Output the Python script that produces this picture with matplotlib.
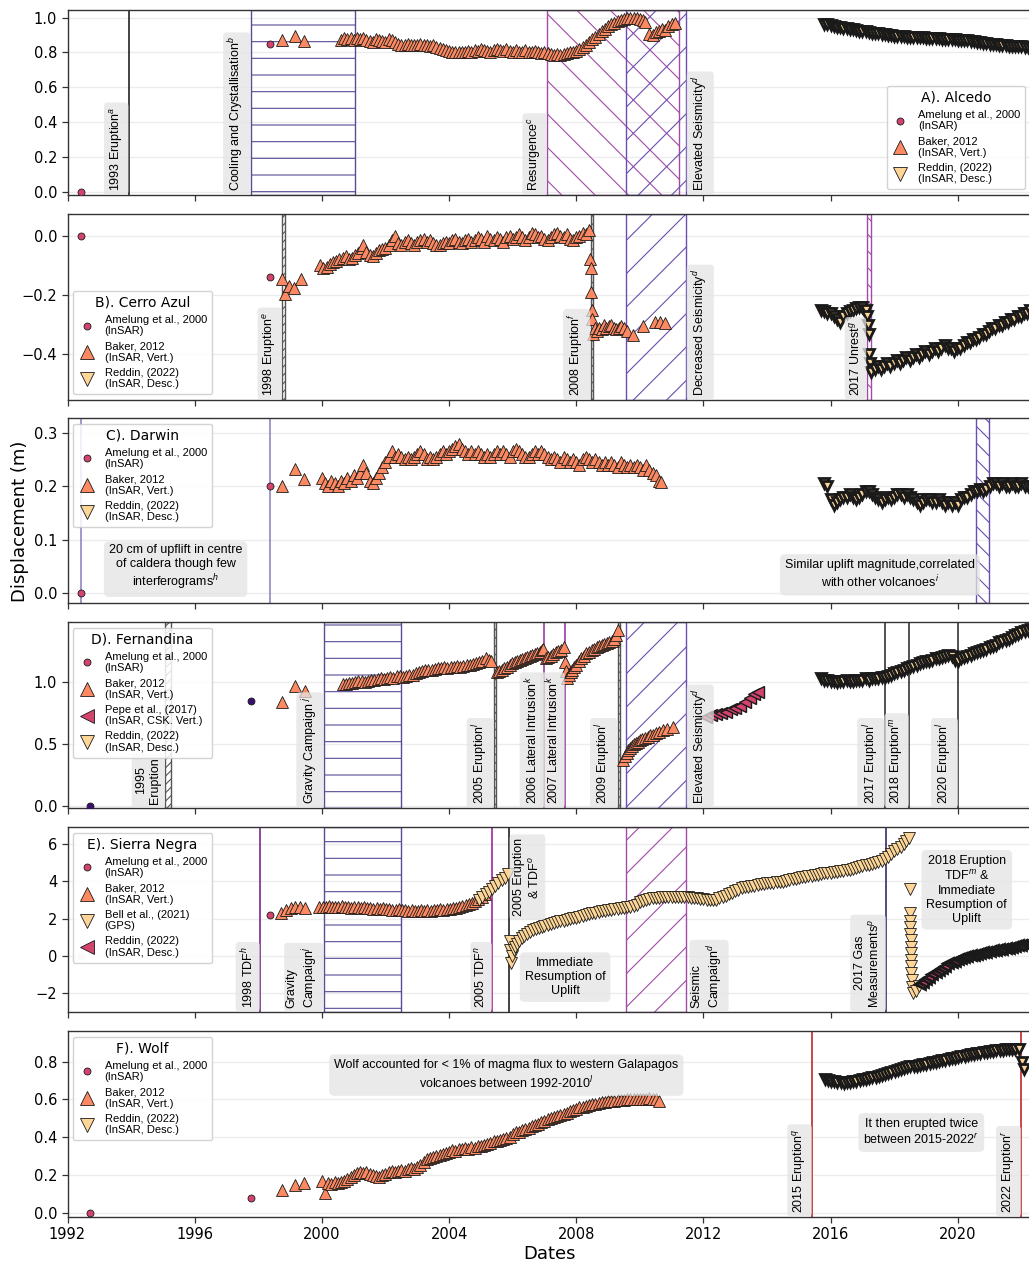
import matplotlib
matplotlib.use('Agg')
import matplotlib.pyplot as plt
from matplotlib.lines import Line2D

plt.rcParams['font.family'] = ['DejaVu Sans']
plt.rcParams['mathtext.fontset'] = 'custom'
plt.rcParams['mathtext.rm'] = 'Liberation Sans'
plt.rcParams['mathtext.it'] = 'Liberation Sans:italic'
plt.rcParams['hatch.linewidth'] = 0.8

# ---------------- data (decimal years, displacement m) ----------------
amel_A = [(1992.44, 0.0), (1998.38, 0.85)]
baker_A = [(1998.74, 0.87), (1999.14, 0.895), (1999.43, 0.865),
           (2000.6, .870), (2000.7, .880), (2000.8, .875), (2000.9, .885), (2001.0, .870), (2001.1, .880),
           (2001.2, .875), (2001.3, .885), (2001.4, .870), (2001.5, .865), (2001.6, .860), (2001.7, .875),
           (2001.8, .870), (2001.9, .865), (2002.0, .860), (2002.1, .875), (2002.2, .870), (2002.3, .860),
           (2002.4, .850), (2002.5, .845), (2002.6, .840), (2002.7, .850), (2002.8, .845), (2002.9, .840),
           (2003.0, .845), (2003.1, .850), (2003.2, .845), (2003.3, .840), (2003.4, .835), (2003.5, .840),
           (2003.6, .830), (2003.7, .825), (2003.8, .820), (2003.9, .815), (2004.0, .810), (2004.1, .805),
           (2004.2, .800), (2004.3, .800), (2004.4, .805), (2004.5, .800), (2004.6, .810), (2004.7, .805),
           (2004.8, .815), (2004.9, .810), (2005.0, .820), (2005.1, .815), (2005.2, .810), (2005.3, .805),
           (2005.4, .815), (2005.5, .820), (2005.6, .815), (2005.7, .810), (2005.8, .820), (2005.9, .810),
           (2006.0, .805), (2006.1, .815), (2006.2, .800), (2006.3, .805), (2006.4, .815), (2006.5, .805),
           (2006.6, .800), (2006.7, .810), (2006.8, .800), (2006.9, .795), (2007.0, .805), (2007.1, .795),
           (2007.2, .790), (2007.3, .785), (2007.4, .790), (2007.5, .785), (2007.6, .790), (2007.7, .795),
           (2007.8, .800), (2007.9, .805), (2008.0, .810), (2008.1, .820), (2008.2, .830), (2008.3, .845),
           (2008.4, .860), (2008.5, .875), (2008.6, .890), (2008.7, .905), (2008.8, .920), (2008.9, .935),
           (2009.0, .950), (2009.1, .960), (2009.2, .970), (2009.3, .980), (2009.4, .985), (2009.5, .990),
           (2009.6, .995), (2009.7, 1.0), (2009.8, .995), (2009.9, 1.0), (2010.0, .990), (2010.1, .985),
           (2010.15, .975), (2010.3, .905), (2010.4, .900), (2010.5, .915), (2010.6, .925), (2010.7, .935),
           (2010.8, .930), (2010.9, .950), (2011.0, .960), (2011.1, .970)]
reddin_A = [(2015.8, .963), (2015.9, .96), (2016.0, .955), (2016.1, .952), (2016.2, .948), (2016.3, .945),
            (2016.4, .942), (2016.5, .938), (2016.6, .935), (2016.7, .932), (2016.8, .928), (2016.9, .925),
            (2017.0, .922), (2017.1, .92), (2017.2, .917), (2017.3, .914), (2017.4, .912), (2017.5, .909),
            (2017.6, .906), (2017.7, .903), (2017.8, .901), (2017.9, .898), (2018.0, .896), (2018.1, .895),
            (2018.2, .894), (2018.3, .892), (2018.4, .891), (2018.5, .89), (2018.6, .889), (2018.7, .888),
            (2018.8, .887), (2018.9, .886), (2019.0, .885), (2019.1, .884), (2019.2, .882), (2019.3, .881),
            (2019.4, .88), (2019.5, .879), (2019.6, .878), (2019.7, .877), (2019.8, .876), (2019.9, .875),
            (2020.0, .873), (2020.1, .872), (2020.2, .871), (2020.3, .869), (2020.4, .866), (2020.5, .864),
            (2020.6, .861), (2020.7, .858), (2020.8, .856), (2020.9, .853), (2021.0, .851), (2021.1, .849),
            (2021.2, .847), (2021.3, .845), (2021.4, .843), (2021.5, .841), (2021.6, .839), (2021.7, .837),
            (2021.8, .836), (2021.9, .835), (2022.0, .834), (2022.1, .833), (2022.2, .832), (2022.3, .831)]

amel_B = [(1992.44, 0.0), (1998.38, -0.14)]
baker_B = [(1998.75, -0.146), (1998.85, -0.198), (1998.98, -0.17), (1999.13, -0.175), (1999.34, -0.145),
           (1999.95, -.100), (2000.05, -.110), (2000.15, -.105), (2000.25, -.095), (2000.35, -.090),
           (2000.45, -.085), (2000.55, -.080), (2000.65, -.075), (2000.75, -.070), (2000.85, -.080),
           (2000.95, -.075), (2001.05, -.065), (2001.15, -.060), (2001.25, -.040), (2001.3, -.030),
           (2001.4, -.055), (2001.5, -.065), (2001.6, -.070), (2001.7, -.060), (2001.8, -.050),
           (2001.9, -.045), (2002.0, -.040), (2002.1, -.030), (2002.2, -.015), (2002.3, .000),
           (2002.4, -.025), (2002.5, -.030), (2002.6, -.020), (2002.7, -.015), (2002.8, -.025),
           (2002.9, -.030), (2003.0, -.020), (2003.1, -.015), (2003.2, -.010), (2003.3, -.020),
           (2003.4, -.015), (2003.5, -.025), (2003.6, -.030), (2003.7, -.030), (2003.8, -.025),
           (2003.9, -.020), (2004.0, -.025), (2004.1, -.015), (2004.2, -.010), (2004.3, -.020),
           (2004.4, -.025), (2004.5, -.015), (2004.6, -.010), (2004.7, -.020), (2004.8, -.015),
           (2004.9, -.005), (2005.0, -.010), (2005.1, -.020), (2005.2, .000), (2005.3, -.010),
           (2005.4, -.015), (2005.5, -.005), (2005.6, -.010), (2005.7, -.020), (2005.8, -.005),
           (2005.9, .000), (2006.0, -.010), (2006.1, -.005), (2006.2, .005), (2006.3, -.005),
           (2006.4, -.015), (2006.5, -.005), (2006.6, .010), (2006.7, .005), (2006.8, -.005),
           (2006.9, .000), (2007.0, -.010), (2007.1, -.015), (2007.2, -.005), (2007.3, .005),
           (2007.4, .010), (2007.5, .000), (2007.6, -.005), (2007.7, .005), (2007.8, -.010),
           (2007.9, -.015), (2008.0, -.005), (2008.1, .000), (2008.2, .010), (2008.3, .005),
           (2008.4, .020),
           (2008.43, -.08), (2008.45, -.11), (2008.47, -.19), (2008.49, -.25), (2008.51, -.28),
           (2008.53, -.33), (2008.58, -.31), (2008.65, -.32), (2008.72, -.31), (2008.8, -.315),
           (2008.88, -.30), (2008.95, -.31), (2009.03, -.305), (2009.1, -.30), (2009.18, -.31),
           (2009.25, -.315), (2009.33, -.31), (2009.4, -.305), (2009.5, -.31), (2009.6, -.32),
           (2009.78, -.335), (2010.1, -.305), (2010.47, -.29), (2010.63, -.29), (2010.79, -.295)]
reddin_B = [(2015.7, -0.25), (2015.8, -0.255), (2015.9, -0.26), (2016.0, -0.26), (2016.1, -0.27),
            (2016.2, -0.28), (2016.3, -0.29), (2016.4, -0.27), (2016.5, -0.26), (2016.6, -0.255),
            (2016.7, -0.25), (2016.8, -0.245), (2016.9, -0.24), (2017.0, -0.24), (2017.1, -0.25),
            (2017.15, -0.27), (2017.17, -0.30), (2017.19, -0.33), (2017.21, -0.40), (2017.23, -0.43),
            (2017.28, -0.46), (2017.38, -0.45), (2017.48, -0.44), (2017.58, -0.45), (2017.68, -0.44),
            (2017.78, -0.43), (2017.88, -0.44), (2017.98, -0.43), (2018.08, -0.42), (2018.18, -0.43),
            (2018.28, -0.42), (2018.38, -0.41), (2018.48, -0.42), (2018.58, -0.41), (2018.68, -0.40),
            (2018.78, -0.41), (2018.88, -0.40), (2018.98, -0.39), (2019.08, -0.40), (2019.18, -0.39),
            (2019.28, -0.38), (2019.38, -0.39), (2019.48, -0.38), (2019.58, -0.37), (2019.68, -0.38),
            (2019.78, -0.38), (2019.88, -0.39), (2019.98, -0.38), (2020.08, -0.38), (2020.18, -0.37),
            (2020.28, -0.36), (2020.38, -0.36), (2020.48, -0.35), (2020.58, -0.35), (2020.68, -0.34),
            (2020.78, -0.33), (2020.88, -0.33), (2020.98, -0.32), (2021.08, -0.31), (2021.18, -0.31),
            (2021.28, -0.30), (2021.38, -0.30), (2021.48, -0.29), (2021.58, -0.29), (2021.68, -0.28),
            (2021.78, -0.28), (2021.88, -0.27), (2021.98, -0.27), (2022.08, -0.26), (2022.18, -0.26),
            (2022.28, -0.25)]

amel_C = [(1992.44, 0.0), (1998.38, 0.20)]
baker_C = [(1998.74, 0.20), (1999.17, 0.232), (1999.43, 0.213),
           (2000.0, .215), (2000.1, .205), (2000.2, .200), (2000.3, .210), (2000.4, .205), (2000.5, .200),
           (2000.6, .210), (2000.7, .205), (2000.8, .215), (2000.9, .210), (2001.0, .220), (2001.1, .215),
           (2001.2, .225), (2001.3, .240), (2001.4, .225), (2001.5, .210), (2001.6, .205), (2001.7, .215),
           (2001.8, .225), (2001.9, .235), (2002.0, .245), (2002.1, .255), (2002.2, .265), (2002.3, .255),
           (2002.4, .260), (2002.5, .255), (2002.6, .250), (2002.7, .255), (2002.8, .250), (2002.9, .255),
           (2003.0, .260), (2003.1, .265), (2003.2, .260), (2003.3, .250), (2003.4, .255), (2003.5, .250),
           (2003.6, .255), (2003.7, .260), (2003.8, .265), (2003.9, .260), (2004.0, .265), (2004.1, .270),
           (2004.2, .275), (2004.3, .278), (2004.4, .270), (2004.5, .265), (2004.6, .260), (2004.7, .265),
           (2004.8, .260), (2004.9, .265), (2005.0, .260), (2005.1, .255), (2005.2, .260), (2005.3, .255),
           (2005.4, .260), (2005.5, .265), (2005.6, .260), (2005.7, .265), (2005.8, .260), (2005.9, .255),
           (2006.0, .265), (2006.1, .270), (2006.2, .265), (2006.3, .260), (2006.4, .255), (2006.5, .255),
           (2006.6, .260), (2006.7, .265), (2006.8, .260), (2006.9, .265), (2007.0, .260), (2007.1, .255),
           (2007.2, .250), (2007.3, .255), (2007.4, .250), (2007.5, .245), (2007.6, .255), (2007.7, .250),
           (2007.8, .245), (2007.9, .250), (2008.0, .245), (2008.1, .240), (2008.2, .250), (2008.3, .255),
           (2008.4, .250), (2008.5, .245), (2008.6, .250), (2008.7, .245), (2008.8, .240), (2008.9, .245),
           (2009.0, .240), (2009.1, .245), (2009.2, .240), (2009.3, .235), (2009.4, .245), (2009.5, .240),
           (2009.6, .235), (2009.7, .240), (2009.8, .235), (2009.9, .240), (2010.0, .235), (2010.1, .230),
           (2010.2, .240), (2010.3, .230), (2010.4, .225), (2010.5, .220), (2010.6, .210), (2010.65, .208)]
reddin_C = [(2015.8, 0.205), (2015.9, 0.20), (2016.0, 0.175), (2016.1, 0.165), (2016.2, 0.17),
            (2016.3, 0.175), (2016.4, 0.18), (2016.5, 0.18), (2016.6, 0.185), (2016.7, 0.18),
            (2016.8, 0.175), (2016.9, 0.18), (2017.0, 0.185), (2017.1, 0.19), (2017.2, 0.19),
            (2017.3, 0.185), (2017.4, 0.18), (2017.5, 0.175), (2017.6, 0.17), (2017.7, 0.175),
            (2017.8, 0.18), (2017.9, 0.175), (2018.0, 0.18), (2018.1, 0.185), (2018.2, 0.185),
            (2018.3, 0.18), (2018.4, 0.185), (2018.5, 0.18), (2018.6, 0.175), (2018.7, 0.17),
            (2018.8, 0.165), (2018.9, 0.17), (2019.0, 0.175), (2019.1, 0.175), (2019.2, 0.17),
            (2019.3, 0.17), (2019.4, 0.175), (2019.5, 0.17), (2019.6, 0.165), (2019.7, 0.17),
            (2019.8, 0.165), (2019.9, 0.17), (2020.0, 0.165), (2020.1, 0.175), (2020.2, 0.18),
            (2020.3, 0.18), (2020.4, 0.185), (2020.5, 0.19), (2020.6, 0.19), (2020.7, 0.195),
            (2020.8, 0.19), (2020.9, 0.195), (2021.0, 0.20), (2021.1, 0.205), (2021.2, 0.205),
            (2021.3, 0.20), (2021.4, 0.205), (2021.5, 0.20), (2021.6, 0.20), (2021.7, 0.205),
            (2021.8, 0.20), (2021.9, 0.20), (2022.0, 0.205), (2022.1, 0.20), (2022.2, 0.20),
            (2022.3, 0.20)]

amel_D = [(1992.7, 0.0), (1997.78, 0.85)]
baker_D = [(1998.75, 0.84), (1999.17, 0.97), (1999.46, 0.93),
           (2000.65, .98), (2000.75, .985), (2000.85, .99), (2000.95, .995), (2001.05, 1.0), (2001.15, 1.005),
           (2001.25, 1.01), (2001.35, 1.0), (2001.45, 1.01), (2001.55, 1.02), (2001.65, 1.015),
           (2001.75, 1.025), (2001.85, 1.03), (2001.95, 1.025), (2002.05, 1.03), (2002.15, 1.04),
           (2002.25, 1.035), (2002.35, 1.045), (2002.45, 1.05), (2002.55, 1.04), (2002.65, 1.045),
           (2002.75, 1.055), (2002.85, 1.06), (2002.95, 1.07), (2003.05, 1.08), (2003.15, 1.09),
           (2003.25, 1.10), (2003.35, 1.095), (2003.45, 1.10), (2003.55, 1.105), (2003.65, 1.11),
           (2003.75, 1.115), (2003.85, 1.12), (2003.95, 1.115), (2004.05, 1.12), (2004.15, 1.125),
           (2004.25, 1.13), (2004.35, 1.125), (2004.45, 1.13), (2004.55, 1.135), (2004.65, 1.14),
           (2004.75, 1.145), (2004.85, 1.15), (2004.95, 1.16), (2005.05, 1.17), (2005.15, 1.19),
           (2005.25, 1.18), (2005.32, 1.17),
           (2005.5, 1.08), (2005.58, 1.09), (2005.66, 1.10), (2005.74, 1.11), (2005.82, 1.125),
           (2005.9, 1.135), (2005.98, 1.15), (2006.06, 1.16), (2006.14, 1.17), (2006.22, 1.175),
           (2006.3, 1.185), (2006.38, 1.19), (2006.46, 1.20), (2006.54, 1.21), (2006.62, 1.215),
           (2006.7, 1.225), (2006.78, 1.23), (2006.86, 1.24), (2006.92, 1.26), (2006.96, 1.27),
           (2007.04, 1.19), (2007.12, 1.20), (2007.2, 1.21), (2007.28, 1.225), (2007.36, 1.24),
           (2007.44, 1.25), (2007.52, 1.26), (2007.6, 1.28),
           (2007.66, 1.16), (2007.68, 1.09), (2007.7, 1.03), (2007.76, 1.06), (2007.82, 1.08),
           (2007.88, 1.10), (2007.94, 1.12), (2008.0, 1.14), (2008.08, 1.17), (2008.16, 1.19),
           (2008.24, 1.21), (2008.32, 1.23), (2008.4, 1.24), (2008.48, 1.26), (2008.56, 1.27),
           (2008.64, 1.28), (2008.72, 1.29), (2008.8, 1.30), (2008.88, 1.31), (2008.96, 1.315),
           (2009.04, 1.32), (2009.12, 1.33), (2009.2, 1.35), (2009.26, 1.38), (2009.3, 1.42),
           (2009.46, .37), (2009.52, .40), (2009.58, .43), (2009.64, .45), (2009.7, .47), (2009.76, .48),
           (2009.82, .50), (2009.88, .51), (2009.94, .52), (2010.0, .53), (2010.08, .54), (2010.16, .55),
           (2010.24, .56), (2010.32, .57), (2010.4, .575), (2010.5, .585), (2010.6, .60), (2010.72, .61),
           (2010.85, .625), (2011.03, .64)]
pepe_D = [(2012.09, 0.72), (2012.25, 0.73), (2012.4, 0.74), (2012.55, 0.75), (2012.7, 0.76),
          (2012.85, 0.78), (2013.0, 0.79), (2013.15, 0.81), (2013.3, 0.84), (2013.45, 0.87),
          (2013.6, 0.90), (2013.72, 0.92)]
reddin_D = [(2015.7, 1.03), (2015.8, 1.02), (2015.9, 1.02), (2016.0, 1.01), (2016.1, 1.01),
            (2016.2, 1.00), (2016.3, 1.01), (2016.4, 1.01), (2016.5, 1.02), (2016.6, 1.01),
            (2016.7, 1.01), (2016.8, 1.02), (2016.9, 1.02), (2017.0, 1.02), (2017.1, 1.03),
            (2017.2, 1.02), (2017.3, 1.03), (2017.4, 1.03), (2017.5, 1.03), (2017.6, 1.04),
            (2017.7, 1.04), (2017.8, 1.05), (2017.9, 1.06), (2018.0, 1.07), (2018.1, 1.08),
            (2018.2, 1.09), (2018.3, 1.10), (2018.4, 1.11), (2018.5, 1.12), (2018.6, 1.13),
            (2018.7, 1.14), (2018.8, 1.15), (2018.9, 1.16), (2019.0, 1.17), (2019.1, 1.17),
            (2019.2, 1.18), (2019.3, 1.19), (2019.4, 1.19), (2019.5, 1.20), (2019.6, 1.21),
            (2019.7, 1.22), (2019.8, 1.21), (2019.9, 1.18), (2020.0, 1.17), (2020.1, 1.19),
            (2020.2, 1.20), (2020.3, 1.21), (2020.4, 1.22), (2020.5, 1.23), (2020.6, 1.24),
            (2020.7, 1.25), (2020.8, 1.26), (2020.9, 1.27), (2021.0, 1.28), (2021.1, 1.29),
            (2021.2, 1.30), (2021.3, 1.32), (2021.4, 1.33), (2021.5, 1.34), (2021.6, 1.35),
            (2021.7, 1.36), (2021.8, 1.38), (2021.9, 1.39), (2022.0, 1.40), (2022.1, 1.41),
            (2022.2, 1.42), (2022.3, 1.43)]

amel_E = [(1998.38, 2.2)]
amel_E_faded = [(1992.44, 0.0)]
baker_E = [(1998.72, 2.3), (1998.87, 2.45), (1999.02, 2.55), (1999.17, 2.6), (1999.32, 2.6),
           (1999.47, 2.55),
           (1999.92, 2.60), (2000.02, 2.65), (2000.12, 2.62), (2000.22, 2.68), (2000.32, 2.60),
           (2000.42, 2.65), (2000.52, 2.62), (2000.62, 2.66), (2000.72, 2.60), (2000.82, 2.64),
           (2000.92, 2.58), (2001.02, 2.62), (2001.12, 2.60), (2001.22, 2.56), (2001.32, 2.60),
           (2001.42, 2.55), (2001.52, 2.58), (2001.62, 2.54), (2001.72, 2.56), (2001.82, 2.52),
           (2001.92, 2.55), (2002.02, 2.50), (2002.12, 2.52), (2002.22, 2.46), (2002.32, 2.44),
           (2002.42, 2.50), (2002.52, 2.46), (2002.62, 2.44), (2002.72, 2.42), (2002.82, 2.46),
           (2002.92, 2.42), (2003.02, 2.40), (2003.12, 2.44), (2003.22, 2.42), (2003.32, 2.45),
           (2003.42, 2.43), (2003.52, 2.47), (2003.62, 2.45), (2003.72, 2.50), (2003.82, 2.48),
           (2003.92, 2.52), (2004.02, 2.53), (2004.12, 2.56), (2004.22, 2.58), (2004.32, 2.62),
           (2004.42, 2.66), (2004.52, 2.72), (2004.62, 2.78), (2004.72, 2.86), (2004.82, 2.95),
           (2004.92, 3.05), (2005.02, 3.15), (2005.12, 3.3)]
bell_E = [(2004.95, 3.0), (2005.05, 3.15), (2005.15, 3.3), (2005.25, 3.45), (2005.35, 3.6),
          (2005.45, 3.75), (2005.55, 3.9), (2005.65, 4.05), (2005.75, 4.2), (2005.85, 4.4),
          (2005.9, 0.8), (2005.92, 0.3), (2005.94, -0.4), (2005.98, 0.0), (2006.03, 0.3),
          (2006.08, 0.5), (2006.13, 0.65), (2006.2, 0.8), (2006.28, 0.95), (2006.36, 1.07),
          (2006.45, 1.17), (2006.55, 1.3), (2006.64, 1.39), (2006.73, 1.45), (2006.82, 1.5),
          (2006.91, 1.55), (2007.0, 1.6), (2007.1, 1.65), (2007.2, 1.7), (2007.3, 1.75),
          (2007.4, 1.8), (2007.5, 1.85), (2007.6, 1.9), (2007.7, 1.93), (2007.8, 1.97),
          (2007.9, 2.02), (2008.0, 2.06), (2008.1, 2.1), (2008.2, 2.14), (2008.3, 2.18),
          (2008.4, 2.23), (2008.5, 2.28), (2008.6, 2.32), (2008.7, 2.36), (2008.8, 2.39),
          (2008.9, 2.42), (2009.0, 2.45), (2009.1, 2.48), (2009.2, 2.5), (2009.3, 2.53),
          (2009.4, 2.56), (2009.5, 2.58), (2009.6, 2.61), (2009.7, 2.63), (2009.8, 2.66),
          (2009.9, 2.75), (2010.0, 2.87), (2010.1, 2.95), (2010.2, 3.0), (2010.3, 3.05),
          (2010.4, 3.08), (2010.5, 3.1), (2010.6, 3.12), (2010.7, 3.14), (2010.8, 3.15),
          (2010.9, 3.16), (2011.0, 3.17), (2011.1, 3.18), (2011.2, 3.18), (2011.3, 3.18),
          (2011.4, 3.16), (2011.5, 3.14), (2011.6, 3.12), (2011.7, 3.1), (2011.8, 3.08),
          (2011.9, 3.06), (2012.0, 3.04), (2012.1, 3.02), (2012.2, 3.0), (2012.3, 3.0),
          (2012.4, 3.01), (2012.5, 3.08), (2012.6, 3.15), (2012.7, 3.23), (2012.8, 3.32),
          (2012.9, 3.4), (2013.0, 3.48), (2013.1, 3.55), (2013.2, 3.62), (2013.3, 3.67),
          (2013.4, 3.71), (2013.5, 3.74), (2013.6, 3.77), (2013.7, 3.8), (2013.8, 3.83),
          (2013.9, 3.86), (2014.0, 3.89), (2014.1, 3.91), (2014.2, 3.93), (2014.3, 3.95),
          (2014.4, 3.97), (2014.5, 3.99), (2014.6, 4.03), (2014.7, 4.07), (2014.8, 4.1),
          (2014.9, 4.13), (2015.0, 4.17), (2015.1, 4.21), (2015.2, 4.25), (2015.3, 4.28),
          (2015.4, 4.31), (2015.5, 4.34), (2015.6, 4.36), (2015.7, 4.39), (2015.8, 4.42),
          (2015.9, 4.45), (2016.0, 4.47), (2016.1, 4.5), (2016.2, 4.52), (2016.3, 4.54),
          (2016.4, 4.56), (2016.5, 4.6), (2016.6, 4.63), (2016.7, 4.67), (2016.8, 4.7),
          (2016.9, 4.75), (2017.0, 4.8), (2017.1, 4.85), (2017.2, 4.9), (2017.3, 4.94),
          (2017.4, 4.98), (2017.5, 5.04), (2017.6, 5.1), (2017.7, 5.2), (2017.8, 5.3),
          (2017.9, 5.45), (2018.0, 5.6), (2018.1, 5.72), (2018.2, 5.85), (2018.3, 6.0),
          (2018.38, 6.15), (2018.45, 6.3),
          (2018.49, 3.6), (2018.5, 2.3), (2018.5, 1.9), (2018.51, 1.55), (2018.51, 1.2),
          (2018.52, 0.85), (2018.52, 0.5), (2018.53, 0.15), (2018.53, -0.2), (2018.54, -0.55),
          (2018.54, -0.9), (2018.55, -1.3), (2018.56, -1.65), (2018.58, -2.0), (2018.68, -1.9),
          (2018.78, -1.6)]
reddin_E = [(2018.8, -1.5), (2018.9, -1.38), (2019.0, -1.25), (2019.1, -1.1), (2019.2, -0.98),
            (2019.3, -0.87), (2019.4, -0.75), (2019.5, -0.63), (2019.6, -0.52), (2019.7, -0.4),
            (2019.8, -0.33), (2019.9, -0.25), (2020.0, -0.17), (2020.1, -0.1), (2020.2, -0.06),
            (2020.3, -0.02), (2020.4, 0.03), (2020.5, 0.07), (2020.6, 0.11), (2020.7, 0.15),
            (2020.8, 0.19), (2020.9, 0.22), (2021.0, 0.26), (2021.1, 0.3), (2021.2, 0.33),
            (2021.3, 0.36), (2021.4, 0.39), (2021.5, 0.42), (2021.6, 0.45), (2021.7, 0.49),
            (2021.8, 0.53), (2021.9, 0.57), (2022.0, 0.6), (2022.1, 0.62), (2022.2, 0.64),
            (2022.3, 0.66)]

amel_F = [(1992.7, 0.0), (1997.78, 0.08)]
baker_F = [(1998.74, 0.12), (1999.15, 0.145), (1999.45, 0.155),
           (2000.0, .17), (2000.1, .105), (2000.2, .155), (2000.3, .15), (2000.4, .16), (2000.5, .155),
           (2000.6, .165), (2000.7, .17), (2000.8, .18), (2000.9, .19), (2001.0, .20), (2001.1, .21),
           (2001.2, .215), (2001.3, .21), (2001.4, .215), (2001.5, .205), (2001.6, .20), (2001.7, .195),
           (2001.8, .19), (2001.9, .20), (2002.0, .205), (2002.1, .215), (2002.2, .22), (2002.3, .215),
           (2002.4, .22), (2002.5, .225), (2002.6, .22), (2002.7, .23), (2002.8, .235), (2002.9, .23),
           (2003.0, .24), (2003.1, .255), (2003.2, .27), (2003.3, .285), (2003.4, .29), (2003.5, .295),
           (2003.6, .30), (2003.7, .305), (2003.8, .31), (2003.9, .315), (2004.0, .32), (2004.1, .33),
           (2004.2, .325), (2004.3, .335), (2004.4, .34), (2004.5, .345), (2004.6, .34), (2004.7, .35),
           (2004.8, .345), (2004.9, .355), (2005.0, .355), (2005.1, .36), (2005.2, .365), (2005.3, .37),
           (2005.4, .38), (2005.5, .38), (2005.6, .385), (2005.7, .39), (2005.8, .395), (2005.9, .40),
           (2006.0, .415), (2006.1, .425), (2006.2, .43), (2006.3, .44), (2006.4, .445), (2006.5, .45),
           (2006.6, .46), (2006.7, .465), (2006.8, .47), (2006.9, .48), (2007.0, .485), (2007.1, .495),
           (2007.2, .50), (2007.3, .505), (2007.4, .51), (2007.5, .52), (2007.6, .525), (2007.7, .53),
           (2007.8, .54), (2007.9, .545), (2008.0, .55), (2008.1, .56), (2008.2, .56), (2008.3, .565),
           (2008.4, .57), (2008.5, .575), (2008.6, .575), (2008.7, .58), (2008.8, .585), (2008.9, .585),
           (2009.0, .59), (2009.1, .59), (2009.2, .59), (2009.3, .595), (2009.4, .595), (2009.5, .595),
           (2009.6, .60), (2009.7, .60), (2009.8, .60), (2009.9, .60), (2010.0, .60), (2010.1, .605),
           (2010.2, .605), (2010.3, .61), (2010.4, .605), (2010.5, .60), (2010.6, .59)]
reddin_F = [(2015.81, 0.71), (2015.91, 0.705), (2016.01, 0.70), (2016.11, 0.70), (2016.21, 0.695),
            (2016.31, 0.69), (2016.41, 0.685), (2016.51, 0.69), (2016.61, 0.695), (2016.71, 0.70),
            (2016.81, 0.70), (2016.91, 0.705), (2017.01, 0.71), (2017.11, 0.71), (2017.21, 0.715),
            (2017.31, 0.72), (2017.41, 0.72), (2017.51, 0.725), (2017.61, 0.73), (2017.71, 0.735),
            (2017.81, 0.74), (2017.91, 0.745), (2018.01, 0.75), (2018.11, 0.755), (2018.21, 0.76),
            (2018.31, 0.765), (2018.41, 0.77), (2018.51, 0.775), (2018.61, 0.78), (2018.71, 0.78),
            (2018.81, 0.785), (2018.91, 0.79), (2019.01, 0.79), (2019.11, 0.795), (2019.21, 0.80),
            (2019.31, 0.80), (2019.41, 0.805), (2019.51, 0.81), (2019.61, 0.81), (2019.71, 0.815),
            (2019.81, 0.82), (2019.91, 0.82), (2020.01, 0.825), (2020.11, 0.83), (2020.21, 0.83),
            (2020.31, 0.835), (2020.41, 0.84), (2020.51, 0.84), (2020.61, 0.845), (2020.71, 0.845),
            (2020.81, 0.85), (2020.91, 0.85), (2021.01, 0.855), (2021.11, 0.855), (2021.21, 0.86),
            (2021.31, 0.86), (2021.41, 0.86), (2021.51, 0.865), (2021.61, 0.865), (2021.71, 0.87),
            (2021.81, 0.87), (2021.91, 0.87), (2022.02, 0.80), (2022.08, 0.76)]

year_ticks = [1992, 1996, 2000, 2004, 2008, 2012, 2016, 2020]

# ---------------- styles ----------------
C_AMEL = '#d3436e'
C_AMEL_D = '#3b0f70'
C_BAKER = '#fc8961'
C_REDDIN = '#fdd697'
C_PEPE = '#d3436e'
EDGE = '#1a1a1a'
P_DARK = '#5b4a96'
P_MAG = '#a24aa8'
P_BLUE = '#6a4fb0'
P_LIGHT = '#8a7cc0'
GRAYH = '#555555'
RED = '#c0282a'
ANN_FONT = 'Liberation Sans'
ANN_SIZE = 9
BOX = dict(boxstyle='round,pad=0.3', fc='#e4e4e4', ec='none', alpha=0.75)

W, H = 1029, 1264
fig = plt.figure(figsize=(W / 100, H / 100), dpi=100)
panels_px = [(10, 195), (214, 400), (418, 603), (622, 808), (827, 1012), (1031, 1217)]
left_px, right_px = 67.5, 1031
axes = []
for top, bot in panels_px:
    ax = fig.add_axes([left_px / W, 1 - bot / H, (right_px - left_px) / W, (bot - top) / H])
    axes.append(ax)


def series(ax, pts, marker, color, ms, alpha=1.0, z=3, mew=0.6):
    xs = [p[0] for p in pts]
    ys = [p[1] for p in pts]
    ax.plot(xs, ys, ls='none', marker=marker, ms=ms, mfc=color, mec=EDGE, mew=mew,
            alpha=alpha, zorder=z)


def vline(ax, x, color, lw=1.1):
    ax.axvline(x, color=color, lw=lw, zorder=2)


def span(ax, x0, x1, color, hatch, lw=1.0):
    ax.axvspan(x0, x1, facecolor='none', edgecolor=color, hatch=hatch, lw=lw, zorder=1.5)


def label(ax, x, text, side='left', top=False, ma='center'):
    dx = -3 if side == 'left' else 3
    ha = 'right' if side == 'left' else 'left'
    if top:
        ax.annotate(text, xy=(x, 1), xycoords=ax.get_xaxis_transform(), xytext=(dx, -8),
                    textcoords='offset points', rotation=90, ha=ha, va='top', fontsize=ANN_SIZE,
                    family=ANN_FONT, bbox=BOX, multialignment=ma, zorder=4)
    else:
        ax.annotate(text, xy=(x, 0), xycoords=ax.get_xaxis_transform(), xytext=(dx, 3),
                    textcoords='offset points', rotation=90, ha=ha, va='bottom', fontsize=ANN_SIZE,
                    family=ANN_FONT, bbox=BOX, multialignment=ma, zorder=4)


def note(ax, x, y, text):
    ax.text(x, y, text, ha='center', va='center', fontsize=ANN_SIZE, family=ANN_FONT,
            multialignment='center',
            bbox=dict(boxstyle='round,pad=0.4', fc='#e4e4e4', ec='none', alpha=0.75), zorder=4)


def legend(ax, title, entries, loc):
    handles, labels = [], []
    for lab, marker, color, ms in entries:
        handles.append(Line2D([], [], ls='none', marker=marker, ms=ms, mfc=color, mec=EDGE, mew=0.6))
        labels.append(lab)
    lg = ax.legend(handles, labels, title=title, loc=loc, prop={'family': ANN_FONT, 'size': 8},
                   title_fontproperties={'family': 'DejaVu Sans', 'size': 10},
                   framealpha=0.85, edgecolor='#cccccc', labelspacing=0.45, handletextpad=0.8,
                   borderpad=0.45, handlelength=1.6)
    lg.set_zorder(10)


L_AMEL = ('Amelung et al., 2000\n(InSAR)', 'o', C_AMEL, 5)
L_BAKER = ('Baker, 2012\n(InSAR, Vert.)', '^', C_BAKER, 10)
L_REDDIN = ('Reddin, (2022)\n(InSAR, Desc.)', 'v', C_REDDIN, 10)
DENSE_MEW = 2.0
DENSE_MS = 7.5

# ---------------- A Alcedo ----------------
ax = axes[0]
vline(ax, 1993.93, '#222222', 1.2)
label(ax, 1993.93, '1993 Eruption$^a$')
span(ax, 1997.76, 2001.03, P_DARK, '-')
label(ax, 1997.76, 'Cooling and Crystallisation$^b$')
span(ax, 2007.09, 2011.22, P_MAG, '\\')
label(ax, 2007.09, 'Resurgence$^c$')
span(ax, 2009.55, 2011.46, P_BLUE, '/')
label(ax, 2011.46, 'Elevated Seismicity$^d$', side='right')
series(ax, amel_A, 'o', C_AMEL, 5)
series(ax, baker_A, '^', C_BAKER, 9)
series(ax, reddin_A, 'v', C_REDDIN, DENSE_MS, mew=DENSE_MEW)
ax.set_ylim(-0.017, 1.043)
ax.set_yticks([0, 0.2, 0.4, 0.6, 0.8, 1.0])
legend(ax, 'A). Alcedo', [L_AMEL, L_BAKER, L_REDDIN], 'lower right')

# ---------------- B Cerro Azul ----------------
ax = axes[1]
span(ax, 1998.76, 1998.84, GRAYH, '////')
label(ax, 1998.76, '1998 Eruption$^e$')
span(ax, 2008.45, 2008.53, GRAYH, '////')
label(ax, 2008.45, '2008 Eruption$^f$')
span(ax, 2009.55, 2011.46, P_BLUE, '/')
label(ax, 2011.46, 'Decreased Seismicity$^d$', side='right')
span(ax, 2017.13, 2017.26, P_MAG, '\\\\')
label(ax, 2017.13, '2017 Unrest$^g$')
series(ax, amel_B, 'o', C_AMEL, 5)
series(ax, baker_B, '^', C_BAKER, 9)
series(ax, reddin_B, 'v', C_REDDIN, DENSE_MS, mew=DENSE_MEW)
ax.set_ylim(-0.554, 0.073)
ax.set_yticks([-0.4, -0.2, 0.0])
legend(ax, 'B). Cerro Azul', [L_AMEL, L_BAKER, L_REDDIN], 'lower left')

# ---------------- C Darwin ----------------
ax = axes[2]
vline(ax, 1992.44, P_LIGHT)
vline(ax, 1998.38, P_LIGHT)
span(ax, 2020.58, 2020.98, P_BLUE, '\\\\')
series(ax, amel_C, 'o', C_AMEL, 5)
series(ax, baker_C, '^', C_BAKER, 9)
series(ax, reddin_C, 'v', C_REDDIN, DENSE_MS, mew=DENSE_MEW)
note(ax, 1995.4, 0.047, '20 cm of upflift in centre\nof caldera though few\ninterferograms$^h$')
note(ax, 2017.55, 0.034, 'Similar uplift magnitude,correlated\nwith other volcanoes$^i$')
ax.set_ylim(-0.0187, 0.3275)
ax.set_yticks([0.0, 0.1, 0.2, 0.3])
legend(ax, 'C). Darwin', [L_AMEL, L_BAKER, L_REDDIN], 'upper left')

# ---------------- D Fernandina ----------------
ax = axes[3]
span(ax, 1995.08, 1995.27, GRAYH, '////')
label(ax, 1995.08, '1995\nEruption')
span(ax, 2000.06, 2002.5, P_DARK, '-')
label(ax, 2000.06, 'Gravity Campaign $^j$')
span(ax, 2005.42, 2005.49, GRAYH, '////')
label(ax, 2005.42, '2005 Eruption$^l$')
vline(ax, 2006.99, P_MAG, 1.3)
label(ax, 2006.99, '2006 Lateral Intrusion$^k$')
vline(ax, 2007.65, P_MAG, 1.3)
label(ax, 2007.65, '2007 Lateral Intrusion$^k$')
span(ax, 2009.3, 2009.36, GRAYH, '////')
label(ax, 2009.3, '2009 Eruption$^l$')
span(ax, 2009.55, 2011.46, P_BLUE, '/')
label(ax, 2011.46, 'Elevated Seismicity$^d$', side='right')
vline(ax, 2017.70, '#222222')
label(ax, 2017.70, '2017 Eruption$^l$')
vline(ax, 2018.47, '#222222')
label(ax, 2018.47, '2018 Eruption$^m$')
vline(ax, 2020.02, '#222222')
label(ax, 2020.02, '2020 Eruption$^l$')
series(ax, amel_D, 'o', C_AMEL_D, 5)
series(ax, baker_D, '^', C_BAKER, 9)
series(ax, pepe_D, '<', C_PEPE, 9, mew=1.0)
series(ax, reddin_D, 'v', C_REDDIN, DENSE_MS, mew=DENSE_MEW)
ax.set_ylim(-0.016, 1.484)
ax.set_yticks([0.0, 0.5, 1.0])
legend(ax, 'D). Fernandina', [L_AMEL, L_BAKER,
                              ('Pepe et al., (2017)\n(InSAR, CSK. Vert.)', '<', C_PEPE, 10),
                              L_REDDIN], 'upper left')

# ---------------- E Sierra Negra ----------------
ax = axes[4]
vline(ax, 1998.06, '#7a2a8a', 1.2)
label(ax, 1998.06, '1998 TDF$^h$')
span(ax, 2000.06, 2002.5, P_DARK, '-')
label(ax, 2000.06, 'Gravity\nCampaign$^j$', ma='left')
vline(ax, 2005.36, '#a0289a', 1.2)
label(ax, 2005.36, '2005 TDF$^n$')
vline(ax, 2005.89, '#222222', 1.2)
label(ax, 2005.89, '2005 Eruption\n& TDF$^o$', side='right', top=True)
span(ax, 2009.55, 2011.46, P_MAG, '/')
label(ax, 2011.46, 'Seismic\nCampaign$^d$', side='right', ma='left')
vline(ax, 2017.75, '#3a2a6a', 1.2)
label(ax, 2017.75, '2017 Gas\nMeasurements$^p$')
series(ax, amel_E_faded, 'o', C_AMEL, 5, alpha=0.15)
series(ax, amel_E, 'o', C_AMEL, 5)
series(ax, baker_E, '^', C_BAKER, 9)
series(ax, bell_E, 'v', C_REDDIN, 9)
series(ax, reddin_E, '<', C_PEPE, DENSE_MS, mew=DENSE_MEW)
note(ax, 2007.65, -1.13, 'Immediate\nResumption of\nUplift')
note(ax, 2020.28, 3.55, '2018 Eruption\nTDF$^m$ &\nImmediate\nResumption of\nUplift')
ax.set_ylim(-3.0, 6.91)
ax.set_yticks([-2, 0, 2, 4, 6])
legend(ax, 'E). Sierra Negra', [L_AMEL, L_BAKER,
                                ('Bell et al., (2021)\n(GPS)', 'v', C_REDDIN, 10),
                                ('Reddin, (2022)\n(InSAR, Desc.)', '<', C_PEPE, 10)], 'upper left')

# ---------------- F Wolf ----------------
ax = axes[5]
vline(ax, 2015.42, RED, 1.2)
label(ax, 2015.42, '2015 Eruption$^q$')
vline(ax, 2022.0, RED, 1.2)
label(ax, 2022.0, '2022 Eruption$^r$')
series(ax, amel_F, 'o', C_AMEL, 5)
series(ax, baker_F, '^', C_BAKER, 9)
series(ax, reddin_F, 'v', C_REDDIN, DENSE_MS, mew=DENSE_MEW)
note(ax, 2005.8, 0.729, 'Wolf accounted for < 1% of magma flux to western Galapagos\nvolcanoes between 1992-2010$^l$')
note(ax, 2018.85, 0.425, 'It then erupted twice\nbetween 2015-2022$^r$')
ax.set_ylim(-0.023, 0.963)
ax.set_yticks([0.0, 0.2, 0.4, 0.6, 0.8])
legend(ax, 'F). Wolf', [L_AMEL, L_BAKER, L_REDDIN], 'upper left')
ax.set_xlabel('Dates', fontsize=13, labelpad=2)

for i, ax in enumerate(axes):
    ax.set_xlim(1992.0, 2022.3)
    ax.set_xticks(year_ticks)
    if i < 5:
        ax.set_xticklabels([])
    else:
        ax.set_xticklabels([str(y) for y in year_ticks])
    ax.yaxis.grid(True, color='#ececec', lw=1.0, zorder=0)
    ax.xaxis.grid(False)
    ax.set_axisbelow(True)
    ax.tick_params(axis='both', labelsize=10.5, color='#333333', length=4, width=0.9)
    for s in ax.spines.values():
        s.set_color('#333333')
        s.set_linewidth(1.0)

fig.text(20 / W, 1 - 521 / H, 'Displacement (m)', rotation=90, ha='center', va='center', fontsize=13)

fig.savefig('out.png', dpi=100)
